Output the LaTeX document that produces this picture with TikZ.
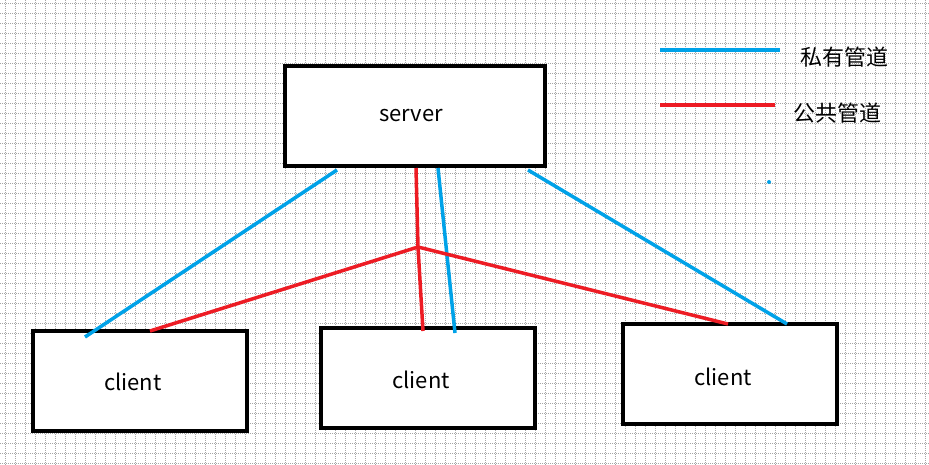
\documentclass[tikz,border=0pt]{standalone}
\usepackage{fontspec}
\setmainfont{Noto Sans CJK SC}
\begin{document}
\begin{tikzpicture}[x=1pt,y=-1pt,
  box/.style={draw=black,line width=4pt,fill=none},
  lbl/.style={font=\fontsize{22}{26}\selectfont},
  pub/.style={draw=pubred,line width=3.5pt},
  pri/.style={draw=priblue,line width=3.5pt}]
\definecolor{pubred}{RGB}{237,28,36}
\definecolor{priblue}{RGB}{0,162,232}
\useasboundingbox (0,0) rectangle (929,465);
\fill[white] (0,0) rectangle (929,465);
\foreach \x in {5,15,...,925} \draw[gray!70,line width=0.8pt,dash pattern=on 1pt off 1pt] (\x,0)--(\x,465);
\foreach \y in {3,13,...,463} \draw[gray!70,line width=0.8pt,dash pattern=on 1pt off 1pt] (0,\y)--(929,\y);
\draw[box,fill=white] (285,66) rectangle (545,166);
\node[lbl] (srv) at (411,116) {server};
\draw[box,fill=white] (33,331) rectangle (247,431);
\node[lbl] (c1) at (133,382) {client};
\draw[box,fill=white] (321,328) rectangle (535,428);
\node[lbl] (c2) at (421,380) {client};
\draw[box,fill=white] (623,324) rectangle (837,424);
\node[lbl] (c3) at (723,377) {client};
\coordinate (j) at (418,247);
\draw[pri] (337,170)--(85,337);
\draw[pri] (438,168)--(455,333);
\draw[pri] (528,170)--(787,324);
\draw[pub] (416,168)--(j);
\draw[pub] (j)--(150,331);
\draw[pub] (j)--(423,331);
\draw[pub] (j)--(728,324);
\coordinate (l1a) at (660,50); \coordinate (l1b) at (780,50);
\draw[pri] (l1a)--(l1b);
\node[lbl,anchor=west] (t1) at (797,57) {私有管道};
\coordinate (l2a) at (660,105); \coordinate (l2b) at (775,105);
\draw[pub] (l2a)--(l2b);
\node[lbl,anchor=west] (t2) at (790,113) {公共管道};
\fill[priblue] (769,182) circle (2);
\end{tikzpicture}
\end{document}
